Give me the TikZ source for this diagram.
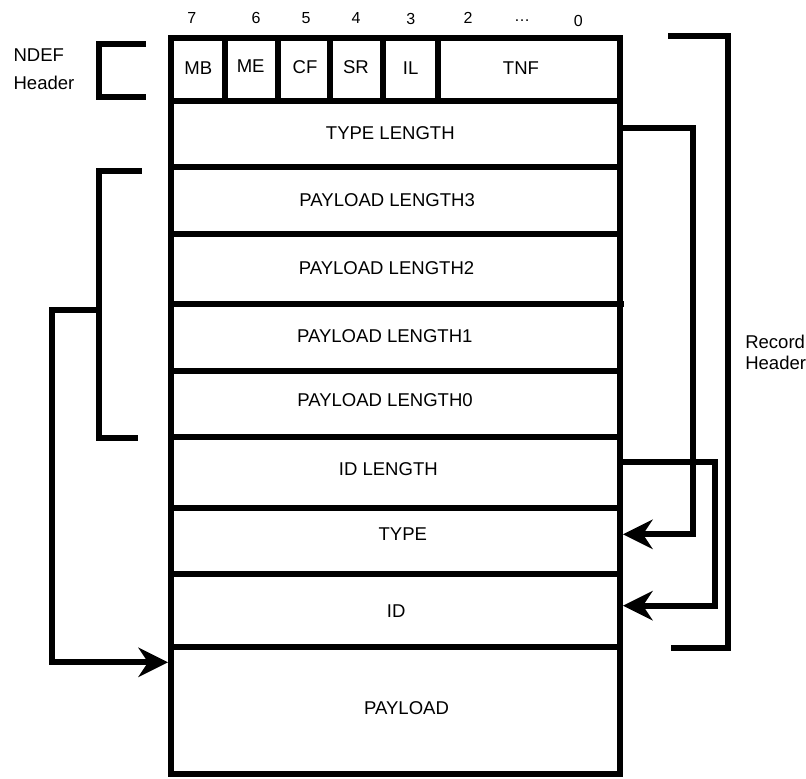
\documentclass[tikz,border=0pt]{standalone}
\usepackage{fontspec}
\setmainfont{Liberation Sans}
\usetikzlibrary{arrows.meta}
\begin{document}
\begin{tikzpicture}[x=0.75pt,y=-0.75pt,
  lw/.style={line width=4.5pt},
  box/.style={draw, lw, anchor=center, inner sep=0pt, outer sep=2.25pt},
  txt/.style={font=\fontsize{13.9}{16}\selectfont, inner sep=0pt},
  bit/.style={font=\fontsize{12}{14}\selectfont, inner sep=0pt},
  conn/.style={lw, line join=miter},
  arr/.style={conn, -{Stealth[length=22.5pt,width=22.5pt,inset=7.5pt,line width=0pt]}},
]
\useasboundingbox (0,0) rectangle (806,778);

% header cells
\node[box, minimum width=40.5pt,  minimum height=46.88pt] (mb)  at (198,69.25) {};
\node[box, minimum width=39.38pt, minimum height=46.88pt] (me)  at (251.25,69.25) {};
\node[box, minimum width=39.38pt, minimum height=46.88pt] (cf)  at (303.75,69.25) {};
\node[box, minimum width=39.75pt, minimum height=46.88pt] (sr)  at (356.5,69.25) {};
\node[box, minimum width=40.88pt, minimum height=46.88pt] (il)  at (410.25,69.25) {};
\node[box, minimum width=136.88pt,minimum height=46.88pt] (tnf) at (528.75,69.25) {};

% rows
\node[box, minimum width=336.75pt, minimum height=49.65pt] (tl)  at (395.5,133.6) {};
\node[box, minimum width=336.75pt, minimum height=50.7pt]  (pl3) at (395.5,200.5) {};
\node[box, minimum width=336.75pt, minimum height=52.5pt]  (pl2) at (395.5,269.3) {};
\node[box, minimum width=336.75pt, minimum height=50.03pt] (pl1) at (395.5,337.65) {};
\node[box, minimum width=336.75pt, minimum height=49.28pt] (pl0) at (395.5,403.85) {};
\node[box, minimum width=336.75pt, minimum height=53.25pt] (idl) at (395.5,472.2) {};
\node[box, minimum width=336.75pt, minimum height=49.73pt] (ty)  at (395.5,540.85) {};
\node[box, minimum width=336.75pt, minimum height=54.98pt] (id)  at (395.5,610.65) {};
\node[box, minimum width=336.75pt, minimum height=95.03pt] (pay) at (395.5,710.65) {};

% small overshoot of the PAYLOAD LENGTH2 / 1 divider on the right
\draw[lw] ([xshift=-2.25pt,yshift=2.25pt]pl2.south east) -- ++(4,0);

% bit numbers
\node[bit] (b7) at (191.7,18.3) {7};
\node[bit] (b6) at (256,18.3) {6};
\node[bit] (b5) at (306,18.3) {5};
\node[bit] (b4) at (356,18.3) {4};
\node[bit] (b3) at (410.7,18.5) {3};
\node[bit] (b2) at (468,18) {2};
\node[bit, anchor=base] (bd) at (522,21.7) {…};
\node[bit] (b0) at (578.3,20.7) {0};

% header texts
\node[txt] (tmb)  at (198.3,68.3) {MB};
\node[txt] (tme)  at (250.7,66.3) {ME};
\node[txt] (tcf)  at (305,66.7) {CF};
\node[txt] (tsr)  at (356,67) {SR};
\node[txt] (til)  at (410.7,68.3) {IL};
\node[txt] (ttnf) at (521,68.3) {TNF};

% row texts
\node[txt] (ttl)  at (390.3,133.3) {TYPE LENGTH};
\node[txt] (tpl3) at (387.2,200.3) {PAYLOAD LENGTH3};
\node[txt] (tpl2) at (386.5,268.6) {PAYLOAD LENGTH2};
\node[txt] (tpl1) at (384.8,336.1) {PAYLOAD LENGTH1};
\node[txt] (tpl0) at (385,400.5) {PAYLOAD LENGTH0};
\node[txt] (tidl) at (388.3,468.8) {ID LENGTH};
\node[txt] (tty)  at (402.8,534.1) {TYPE};
\node[txt] (tid)  at (396.2,611.5) {ID};
\node[txt] (tpay) at (406.5,708.4) {PAYLOAD};

% side labels
\node[txt, anchor=west] (ndef1) at (13.3,55.5) {NDEF};
\node[txt, anchor=west] (ndef2) at (13.3,83.3) {Header};
\node[txt, anchor=west] (rec1) at (745,341.7) {Record};
\node[txt, anchor=west] (rec2) at (745,363.3) {Header};

% brackets
\draw[conn] (145.7,44) -- (99.3,44) -- (99.3,97.3) -- (145.7,97.3);
\draw[conn] (141.7,170.7) -- (99.3,170.7) -- (99.3,437.7) -- (138.3,437.7);
\draw[conn] (668,36) -- (728.3,36) -- (728.3,648.3) -- (671,648.3);

% connectors
\coordinate (yTL) at (0,128.3);
\coordinate (yIL) at (0,461.7);
\coordinate (yTY) at (0,534.3);
\coordinate (yID) at (0,605.7);
\coordinate (yPA) at (0,662.3);
\coordinate (bk) at (99.3,310.3);

\draw[arr] (tl.east |- yTL) -- ++(70.3,0) |- (ty.east |- yTY);
\draw[arr] (idl.east |- yIL) -- ++(92,0) |- (id.east |- yID);
\draw[arr] (bk) -- ++(-47.6,0) |- (pay.west |- yPA);
\end{tikzpicture}
\end{document}
